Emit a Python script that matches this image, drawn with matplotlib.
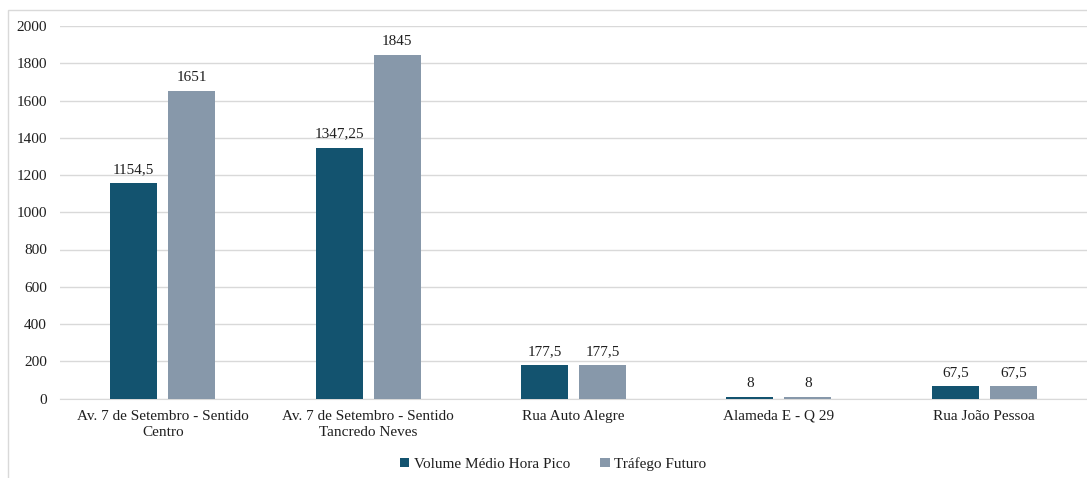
import matplotlib.pyplot as plt
import matplotlib.patches as patches
import numpy as np

# Dados
categorias = ["Av. 7 de Setembro - Sentido\nCentro",
              "Av. 7 de Setembro - Sentido\nTancredo Neves",
              "Rua Auto Alegre",
              "Alameda E - Q 29",
              "Rua João Pessoa"]
volume_pico = [1154.5, 1347.25, 177.5, 8, 67.5]
trafego_futuro = [1651, 1845, 177.5, 8, 67.5]
rotulos_pico = ["1154,5", "1347,25", "177,5", "8", "67,5"]
rotulos_futuro = ["1651", "1845", "177,5", "8", "67,5"]

cor_pico = "#13536f"
cor_futuro = "#8798aa"
cor_texto = "#1f1f1f"

plt.rcParams['font.family'] = ['Liberation Serif', 'DejaVu Serif']

fig = plt.figure(figsize=(10.87, 4.78), dpi=100)
ax = fig.add_axes([60 / 1087, 79.5 / 478, 1 - 60 / 1087, 372.5 / 478])

# moldura do gráfico
fig.patches.append(patches.Rectangle((8 / 1087, -0.05), 1.1, (478 - 10) / 478 + 0.05,
                                     transform=fig.transFigure, fill=False,
                                     edgecolor="#d9d9d9", linewidth=1.0))

x = np.arange(len(categorias))
larg = 0.229
desloc = 0.141
b1 = ax.bar(x - desloc, volume_pico, larg, color=cor_pico, label="Volume Médio Hora Pico", zorder=3)
b2 = ax.bar(x + desloc, trafego_futuro, larg, color=cor_futuro, label="Tráfego Futuro", zorder=3)

for barra, txt in zip(b1, rotulos_pico):
    ax.annotate(txt, (barra.get_x() + barra.get_width() / 2, barra.get_height()),
                xytext=(0, 5), textcoords="offset points", ha="center", va="bottom",
                fontsize=11, color=cor_texto)
for barra, txt in zip(b2, rotulos_futuro):
    ax.annotate(txt, (barra.get_x() + barra.get_width() / 2, barra.get_height()),
                xytext=(0, 5), textcoords="offset points", ha="center", va="bottom",
                fontsize=11, color=cor_texto)

ax.set_xlim(-0.5, len(categorias) - 0.5)
ax.set_ylim(0, 2000)
ax.set_yticks(range(0, 2001, 200))
ax.set_xticks(x)
ax.set_xticklabels(categorias, fontsize=11, color=cor_texto, linespacing=1.35)
ax.tick_params(axis="y", labelsize=11, labelcolor=cor_texto, length=0, pad=9.5)
ax.tick_params(axis="x", length=0, pad=8)

ax.grid(axis="y", color="#d9d9d9", linewidth=1.0, zorder=0)
for lado in ["top", "right", "left"]:
    ax.spines[lado].set_visible(False)
ax.spines["bottom"].set_color("#d9d9d9")

fig.legend(loc="center", bbox_to_anchor=(553 / 1087, 1 - 464 / 478), ncol=2,
           frameon=False, fontsize=11, handlelength=0.6, handleheight=0.6,
           columnspacing=2.0, handletextpad=0.3, labelcolor=cor_texto)

fig.savefig("out.png", dpi=100)
